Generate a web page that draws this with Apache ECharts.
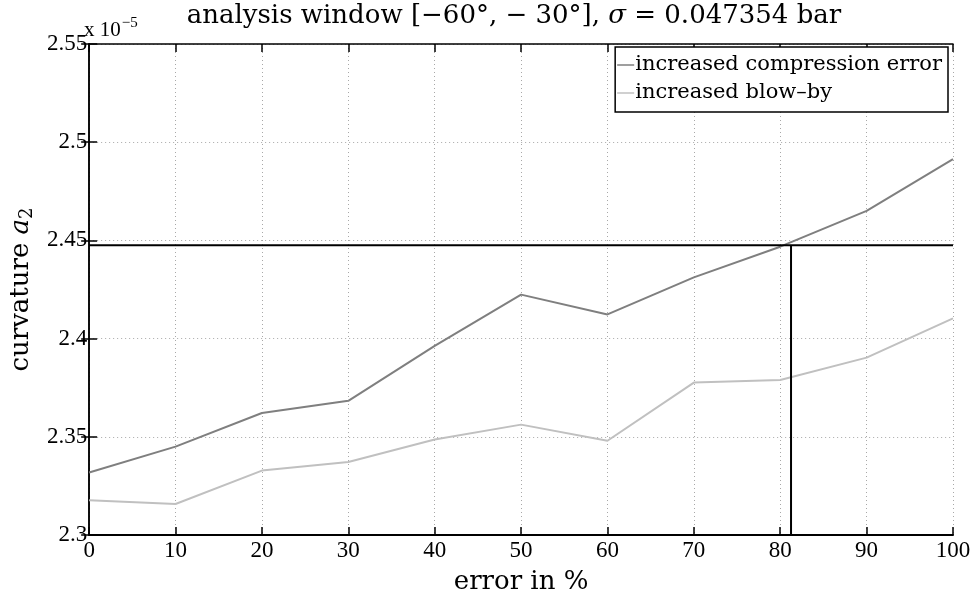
<!DOCTYPE html>
<html>
<head>
<meta charset="utf-8">
<script src="https://cdn.jsdelivr.net/npm/echarts@6/dist/echarts.min.js"></script>
<style>html,body{margin:0;padding:0;background:#fff}#c{width:976px;height:600px}</style>
</head>
<body>
<div id="c"></div>
<script>
// values in units of 1e-5
const errorPct = [0, 10, 20, 30, 40, 50, 60, 70, 80, 90, 100];
const compressionError = [2.3318, 2.3450, 2.3621, 2.3683, 2.3963, 2.4224, 2.4123, 2.4312, 2.4468, 2.4650, 2.4914];
const blowBy = [2.3177, 2.3158, 2.3328, 2.3372, 2.3486, 2.3562, 2.3480, 2.3776, 2.3789, 2.3903, 2.4103];
const thresholdValue = 2.4475;
const thresholdCrossing = 81.25;
const yTicks = [2.3, 2.35, 2.4, 2.45, 2.5, 2.55];
const seriesNames = ['increased compression error', 'increased blow\u2013by'];

const SERIF = '"Liberation Serif","DejaVu Serif",serif';
const CM = '"DejaVu Serif","Liberation Serif",serif';
const chart = echarts.init(document.getElementById('c'), null, {renderer: 'canvas'});

function fmtY(v) {
  let best = yTicks.reduce((a, b) => Math.abs(b - v) < Math.abs(a - v) ? b : a);
  return String(best);
}

const option = {
  animation: false,
  backgroundColor: '#fff',
  grid: {left: 83, right: 23, top: 44, bottom: 61, containLabel: false},
  legend: {
    data: seriesNames.map(n => ({name: n, icon: 'rect'})),
    orient: 'vertical',
    right: 28, top: 47,
    itemWidth: 17, itemHeight: 1.5, itemGap: 4,
    backgroundColor: '#fff',
    borderColor: '#000', borderWidth: 1.5,
    padding: [6, 6, 7, 2],
    textStyle: {fontFamily: CM, fontSize: 21, color: '#000', padding: [0, 0, 0, -4], lineHeight: 24}
  },
  graphic: [
    {
      type: 'text', x: 514, y: 3, z: 10,
      style: {
        text: '{a|analysis window [\u221260\u00b0, \u2212 30\u00b0], }{s|\u03c3}{a| = 0.047354 bar}',
        textAlign: 'center',
        rich: {
          a: {fontFamily: CM, fontSize: 26, fill: '#000'},
          s: {fontFamily: CM, fontSize: 26, fontStyle: 'italic', fill: '#000'}
        }
      }
    },
    {
      type: 'text', x: 84, y: 16, z: 10,
      style: {
        text: '{a|x 10}{b|\u22125}',
        rich: {
          a: {fontFamily: SERIF, fontSize: 21, fill: '#000', verticalAlign: 'bottom'},
          b: {fontFamily: SERIF, fontSize: 15, fill: '#000', verticalAlign: 'top', padding: [0, 0, 10, 1]}
        }
      }
    }
  ],
  xAxis: [
    {
      type: 'value', min: 0, max: 100, interval: 10, position: 'bottom',
      name: 'error in %', nameLocation: 'middle', nameGap: 34,
      nameTextStyle: {fontFamily: CM, fontSize: 26, color: '#000'},
      axisLine: {show: true, lineStyle: {color: '#000', width: 2}},
      axisTick: {show: true, inside: true, length: 8, lineStyle: {color: '#000', width: 1.5}},
      axisLabel: {fontFamily: SERIF, fontSize: 23, color: '#000', margin: 4},
      splitLine: {show: true, lineStyle: {color: '#a8a8a8', type: [1, 3], width: 1}}
    },
    {
      type: 'value', min: 0, max: 100, interval: 10, position: 'top',
      axisLine: {show: true, lineStyle: {color: '#000', width: 1.5}},
      axisTick: {show: true, inside: true, length: 8, lineStyle: {color: '#000', width: 1.5}},
      axisLabel: {show: false}, splitLine: {show: false}
    }
  ],
  yAxis: [
    {
      type: 'value', min: 2.3, max: 2.55, interval: 0.05, position: 'left',
      name: '{a|curvature }{i|a}{s|2}', nameLocation: 'middle', nameGap: 52, nameRotate: 90,
      nameTextStyle: {
        rich: {
          a: {fontFamily: CM, fontSize: 26, color: '#000'},
          i: {fontFamily: CM, fontSize: 26, fontStyle: 'italic', color: '#000'},
          s: {fontFamily: CM, fontSize: 18, color: '#000', padding: [12, 0, 0, 0]}
        }
      },
      axisLine: {show: true, lineStyle: {color: '#000', width: 1.5}},
      axisTick: {show: true, inside: true, length: 8, lineStyle: {color: '#000', width: 1.5}},
      axisLabel: {fontFamily: SERIF, fontSize: 23, color: '#000', margin: 2, formatter: fmtY},
      splitLine: {show: true, lineStyle: {color: '#a8a8a8', type: [1, 3], width: 1}}
    },
    {
      type: 'value', min: 2.3, max: 2.55, interval: 0.05, position: 'right',
      axisLine: {show: true, lineStyle: {color: '#000', width: 1.5}},
      axisTick: {show: true, inside: true, length: 8, lineStyle: {color: '#000', width: 1.5}},
      axisLabel: {show: false}, splitLine: {show: false}
    }
  ],
  series: [
    {
      name: seriesNames[0], type: 'line', showSymbol: false, symbol: 'none',
      data: errorPct.map((x, i) => [x, compressionError[i]]),
      lineStyle: {color: '#7f7f7f', width: 2}, itemStyle: {color: '#7f7f7f'}, z: 3
    },
    {
      name: seriesNames[1], type: 'line', showSymbol: false, symbol: 'none',
      data: errorPct.map((x, i) => [x, blowBy[i]]),
      lineStyle: {color: '#c0c0c0', width: 2}, itemStyle: {color: '#c0c0c0'}, z: 3
    },
    {
      name: 'threshold', type: 'line', showSymbol: false, symbol: 'none',
      data: [[0, thresholdValue], [100, thresholdValue]],
      lineStyle: {color: '#000', width: 2}, z: 4, silent: true
    },
    {
      name: 'crossing', type: 'line', showSymbol: false, symbol: 'none',
      data: [[thresholdCrossing, 2.3], [thresholdCrossing, thresholdValue]],
      lineStyle: {color: '#000', width: 2}, z: 4, silent: true
    }
  ]
};
chart.setOption(option);
</script>
</body>
</html>
